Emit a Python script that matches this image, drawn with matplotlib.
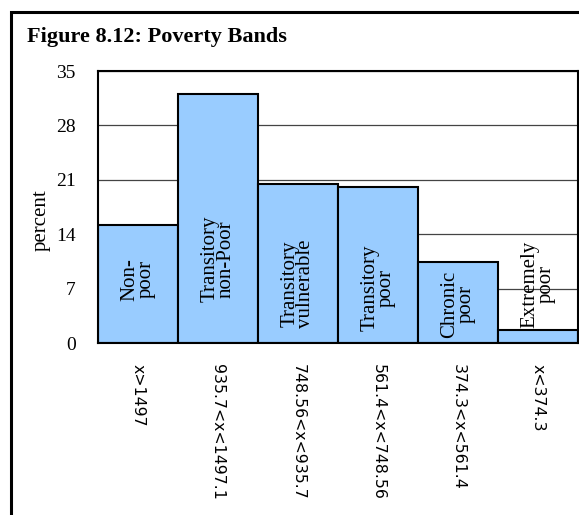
import matplotlib
matplotlib.use("Agg")
import matplotlib.pyplot as plt
from matplotlib.patches import Rectangle

ranges = ["x>1497", "935.7<x<1497.1", "748.56<x<935.7", "561.4<x<748.56", "374.3<x<561.4", "x<374.3"]
bands = ["Non-\npoor", "Transitory\nnon-Poor", "Transitory\nvulnerable", "Transitory\npoor", "Chronic\npoor", "Extremely\npoor"]
values = [15.2, 32.1, 20.5, 20.1, 10.4, 1.7]
label_pos = [8.2, 10.8, 7.6, 7.1, 5.0, 7.6]
yticks = [0, 7, 14, 21, 28, 35]

W, H = 579, 515
fig = plt.figure(figsize=(W/100, H/100), dpi=100)

# outer frame
fig.patches.append(Rectangle((11/W, -0.1), 1.2, (H-12)/H + 0.1, transform=fig.transFigure,
                             fill=False, edgecolor='black', linewidth=2.2))

fig.text(27/W, 1-37/H, "Figure 8.12: Poverty Bands", family="Liberation Serif",
         fontweight="bold", fontsize=16, ha="left", va="center")

ax = fig.add_axes([98/W, 1-343/H, 480/W, 272/H])
x = list(range(len(values)))
ax.set_axisbelow(True)
ax.yaxis.grid(True, color="#444444", linewidth=0.9)
ax.bar(x, values, width=1.0, color="#99CCFF", edgecolor="black", linewidth=1.5, zorder=3)
ax.set_xlim(-0.5, len(values)-0.5)
ax.set_ylim(0, 35)
ax.set_yticks(yticks)
ax.set_yticklabels([str(t) for t in yticks], family="Liberation Serif", fontsize=14)
ax.tick_params(axis="y", length=0, pad=16)
ax.set_xticks(x)
ax.set_xticklabels(ranges, rotation=-90, family="DejaVu Sans", fontsize=11.3, va="top", ha="center")
ax.tick_params(axis="x", length=0, pad=15)
for s in ax.spines.values():
    s.set_linewidth(1.5)
    s.set_zorder(4)

for xi, lab, yp in zip(x, bands, label_pos):
    ax.text(xi, yp, lab, rotation=90, ha="center", va="center", family="Liberation Serif",
            fontsize=15, linespacing=0.78, zorder=5, multialignment="center")

fig.text(41/W, 1-220/H, "percent", rotation=90, family="Liberation Serif", fontsize=15,
         ha="center", va="center")

fig.savefig("out.png", dpi=100)
